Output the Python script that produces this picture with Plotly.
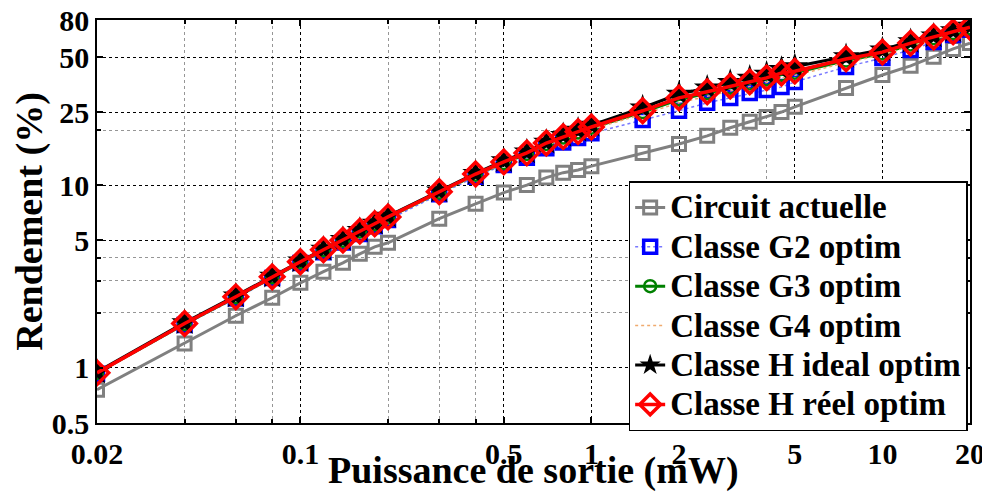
import plotly.graph_objects as go

# output power (mW)
puissance = [0.02, 0.04, 0.06, 0.08, 0.1, 0.12, 0.14, 0.16, 0.18, 0.2,
             0.3, 0.4, 0.5, 0.6, 0.7, 0.8, 0.9, 1, 1.5, 2,
             2.5, 3, 3.5, 4, 4.5, 5, 7.5, 10, 12.5, 15, 17.5, 20]

# efficiency (%) per configuration
circuit_actuelle = [0.76, 1.36, 1.93, 2.42, 2.92, 3.36, 3.76, 4.21, 4.6, 4.84,
                    6.55, 7.9, 9.1, 10.0, 11.0, 11.7, 12.1, 12.7, 15.0, 16.8,
                    18.6, 20.6, 22.2, 23.6, 25.1, 26.8, 34.0, 40.0, 44.9, 50.3, 55.6, 59.8]
classe_g2 = [0.93, 1.72, 2.4, 3.1, 3.75, 4.3, 4.85, 5.4, 5.95, 6.45,
             8.9, 11.1, 12.9, 14.1, 15.9, 17.1, 18.1, 19.2, 22.7, 25.5,
             28.2, 30.0, 31.9, 33.1, 34.4, 36.7, 44.3, 49.6, 54.9, 60.7, 66.3, 70.7]
classe_g3 = [0.94, 1.74, 2.44, 3.13, 3.79, 4.4, 4.97, 5.57, 6.1, 6.65,
             9.1, 11.4, 13.2, 14.8, 16.8, 18.2, 19.4, 20.6, 25.1, 29.4,
             31.8, 34.1, 36.0, 37.9, 40.2, 41.2, 48.0, 52.5, 58.8, 63.6, 67.9, 72.2]
classe_g4 = [0.94, 1.74, 2.44, 3.13, 3.79, 4.4, 4.96, 5.55, 6.08, 6.62,
             9.05, 11.3, 13.1, 14.6, 16.5, 17.8, 19.0, 20.2, 24.4, 28.2,
             30.6, 32.8, 34.6, 36.4, 38.6, 39.8, 46.8, 51.6, 57.6, 62.6, 67.2, 71.6]
classe_h_ideal = [0.95, 1.77, 2.48, 3.18, 3.85, 4.47, 5.05, 5.66, 6.2, 6.77,
                  9.3, 11.6, 13.6, 15.2, 17.2, 18.7, 20.0, 21.3, 26.5, 31.5,
                  34.0, 36.5, 38.5, 40.5, 43.0, 44.5, 50.5, 55.0, 61.0, 65.5, 70.0, 74.0]
classe_h_reel = [0.94, 1.75, 2.45, 3.15, 3.81, 4.43, 5.0, 5.6, 6.15, 6.7,
                 9.2, 11.5, 13.4, 15.0, 17.0, 18.4, 19.6, 20.8, 25.5, 30.0,
                 32.4, 34.8, 36.7, 38.6, 41.0, 42.0, 49.0, 53.4, 59.8, 64.6, 68.9, 73.0]

x_ticks = [0.02, 0.1, 0.5, 1, 2, 5, 10, 20]
x_ticktext = ['0.02', '0.1', '0.5', '1', '2', '5', '10', '20']
x_minor = [0.04, 0.06, 0.08, 0.2, 0.3, 0.4, 4]
y_ticks = [0.5, 1, 5, 10, 25, 50, 80]
y_ticktext = ['0.5', '1', '5', '10', '25', '50', '80']
y_minor = [2, 3, 4, 20]

serif = 'Liberation Serif'


def legend_name(s):
    # bigger glyphs than the legend row height would give
    return '<span style="font-size:33px">' + s + '</span>'


fig = go.Figure()

fig.add_trace(go.Scatter(x=puissance, y=circuit_actuelle, name=legend_name('Circuit actuelle'),
                         mode='lines+markers',
                         line=dict(color='rgb(128,128,128)', width=3),
                         marker=dict(symbol='square-open', size=13, color='rgb(128,128,128)',
                                     line=dict(width=3, color='rgb(128,128,128)'))))
fig.add_trace(go.Scatter(x=puissance, y=classe_g2, name=legend_name('Classe G2 optim'),
                         mode='lines+markers',
                         line=dict(color='rgb(120,120,255)', width=1.5, dash='dot'),
                         marker=dict(symbol='square-open', size=13, color='blue',
                                     line=dict(width=3.5, color='blue'))))
fig.add_trace(go.Scatter(x=puissance, y=classe_g3, name=legend_name('Classe G3 optim'),
                         mode='lines+markers',
                         line=dict(color='green', width=3),
                         marker=dict(symbol='circle-open', size=12, color='green',
                                     line=dict(width=2.5, color='green'))))
fig.add_trace(go.Scatter(x=puissance, y=classe_g4, name=legend_name('Classe G4 optim'),
                         mode='lines',
                         line=dict(color='rgb(240,170,110)', width=1.5, dash='dot')))
fig.add_trace(go.Scatter(x=puissance, y=classe_h_ideal, name=legend_name('Classe H ideal optim'),
                         mode='lines+markers',
                         line=dict(color='black', width=3),
                         marker=dict(symbol='star', size=20, color='black',
                                     line=dict(width=0))))
fig.add_trace(go.Scatter(x=puissance, y=classe_h_reel, name=legend_name('Classe H réel optim'),
                         mode='lines+markers',
                         line=dict(color='red', width=3.5),
                         marker=dict(symbol='diamond-open', size=18, color='red',
                                     line=dict(width=3.5, color='red'))))

axis_common = dict(
    type='log', showline=True, linecolor='black', linewidth=1.5, mirror='ticks',
    ticks='inside', ticklen=6, tickcolor='black', tickwidth=1.5,
    showgrid=True, gridcolor='black', griddash='dot', gridwidth=1,
    zeroline=False, ticklabeloverflow='allow',
    tickfont=dict(family=serif, size=30, color='black', weight='bold'),
    automargin=False,
)

# the page body has an 8px margin, so the margins below are shifted by it
fig.update_layout(
    width=990, height=496,
    margin=dict(l=89, r=28, t=12, b=81),
    plot_bgcolor='white', paper_bgcolor='white',
    font=dict(family=serif, color='black'),
    xaxis=dict(axis_common,
               range=[-1.69897, 1.30103],
               tickmode='array', tickvals=x_ticks, ticktext=x_ticktext,
               ticklabelstandoff=3,
               minor=dict(tickvals=x_minor, showgrid=True, gridcolor='rgb(150,150,150)',
                          griddash='dot', ticks='inside', ticklen=4, tickcolor='black')),
    yaxis=dict(axis_common,
               range=[-0.30103, 1.90309],
               tickmode='array', tickvals=y_ticks, ticktext=y_ticktext,
               minor=dict(tickvals=y_minor, showgrid=True, gridcolor='rgb(150,150,150)',
                          griddash='dot', ticks='inside', ticklen=4, tickcolor='black'),
               title=dict(text='Rendement (%)', standoff=0,
                          font=dict(family=serif, size=38, color='black', weight='bold'))),
    legend=dict(x=0.609, y=0.6, xanchor='left', yanchor='top',
                bgcolor='white', bordercolor='black', borderwidth=1.5,
                font=dict(family=serif, size=28, color='black', weight='bold'),
                tracegroupgap=0, itemwidth=30),
    showlegend=True,
    annotations=[dict(text='Puissance de sortie (mW)', xref='paper', yref='paper',
                      x=0.5, y=-0.118, xanchor='center', yanchor='middle', showarrow=False,
                      font=dict(family=serif, size=38, color='black', weight='bold'))],
)

fig.write_html("out.html")
